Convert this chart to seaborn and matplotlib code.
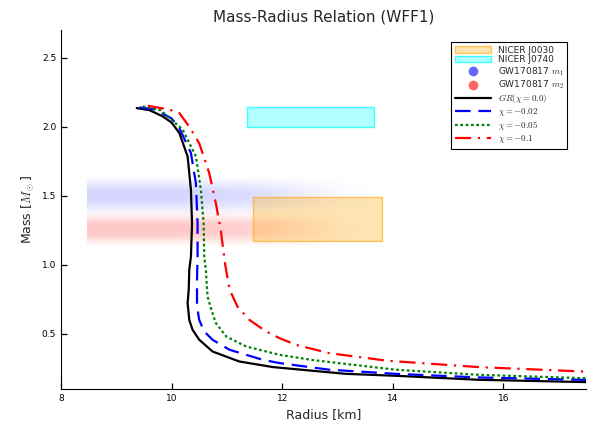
"""
Mass-radius relation for the WFF1 equation of state, with NICER and GW170817 constraints.
"""

import numpy as np
import pandas as pd
import matplotlib
matplotlib.use("Agg")
import matplotlib.pyplot as plt
from matplotlib.lines import Line2D
import seaborn as sns

# mass-radius curves (radius in km, mass in solar masses)
gr_radius = [9.37, 9.6, 9.84, 10.0, 10.14, 10.29, 10.35, 10.37, 10.35, 10.32, 10.31, 10.29,
             10.32, 10.38, 10.50, 10.74, 11.22, 11.83, 13.15, 14.05, 15.55, 17.5]
gr_mass = [2.135, 2.12, 2.075, 2.03, 1.955, 1.785, 1.543, 1.30, 1.06, 0.964, 0.82, 0.722,
           0.60, 0.529, 0.457, 0.372, 0.30, 0.259, 0.21, 0.196, 0.167, 0.15]

chi002_radius = [9.42, 9.7, 10.0, 10.14, 10.35, 10.44, 10.47, 10.47, 10.46, 10.46, 10.50,
                 10.59, 10.74, 11.05, 11.645, 11.95, 12.85, 14.05, 15.55, 17.5]
chi002_mass = [2.14, 2.125, 2.06, 1.99, 1.81, 1.59, 1.30, 1.06, 0.891, 0.698, 0.60,
               0.517, 0.457, 0.384, 0.312, 0.288, 0.24, 0.21, 0.184, 0.166]

chi005_radius = [9.48, 9.8, 10.2, 10.44, 10.53, 10.58, 10.59, 10.62, 10.65, 10.72, 10.80,
                 10.99, 11.35, 11.95, 12.55, 14.05, 15.55, 17.5]
chi005_mass = [2.147, 2.12, 1.98, 1.785, 1.543, 1.30, 1.06, 0.964, 0.77, 0.674, 0.578,
               0.48, 0.408, 0.348, 0.31, 0.24, 0.203, 0.178]

chi01_radius = [9.57, 9.95, 10.14, 10.32, 10.50, 10.68, 10.80, 10.89, 10.97, 11.05, 11.19,
                11.41, 11.71, 11.95, 12.25, 12.85, 13.9, 15.55, 17.5]
chi01_mass = [2.152, 2.125, 2.10, 2.0, 1.88, 1.665, 1.447, 1.25, 1.0, 0.82, 0.698,
              0.60, 0.517, 0.469, 0.42, 0.36, 0.305, 0.259, 0.226]

curve_labels = [r"$GR(\chi = 0.0)$", r"$\chi = -0.02$", r"$\chi = -0.05$", r"$\chi = -0.1$"]

# NICER boxes: (radius min, radius max), (mass min, mass max)
j0030_radius = [11.48, 13.80]
j0030_mass = [1.174, 1.49]
j0740_radius = [11.37, 13.66]
j0740_mass = [2.0, 2.145]

# GW170817 sample clouds, shown as a soft density band
m1_radius = [8.47, 13.6]
m1_mass = [1.33, 1.66]
m1_mass_profile = [0.0, 0.07, 0.14, 0.17, 0.15, 0.07, 0.0]
m1_radius_profile = [1.0, 1.0, 1.0, 0.95, 0.85, 0.6, 0.3, 0.05]

m2_radius = [8.47, 13.5]
m2_mass = [1.11, 1.41]
m2_mass_profile = [0.0, 0.09, 0.2, 0.23, 0.2, 0.09, 0.0]
m2_radius_profile = [1.0, 1.0, 1.0, 0.95, 0.85, 0.6, 0.3, 0.05]

sns.set_theme(style="white")
plt.rcParams["font.family"] = ["DejaVu Sans"]
plt.rcParams["mathtext.fontset"] = "cm"

fig, ax = plt.subplots(figsize=(6, 4.3), dpi=100)
fig.subplots_adjust(left=0.1017, right=0.977, bottom=0.0953, top=0.930)


def cloud(mass_profile, radius_profile, color, radius, mass):
    a = np.outer(mass_profile, radius_profile)
    img = np.zeros(a.shape + (4,))
    img[..., :3] = matplotlib.colors.to_rgb(color)
    img[..., 3] = a
    ax.imshow(img, extent=[radius[0], radius[1], mass[0], mass[1]], origin="lower",
              aspect="auto", interpolation="bilinear", zorder=1)


cloud(m1_mass_profile, m1_radius_profile, "blue", m1_radius, m1_mass)
cloud(m2_mass_profile, m2_radius_profile, "red", m2_radius, m2_mass)

# NICER constraints
p1 = ax.fill_between(j0030_radius, j0030_mass[0], j0030_mass[1],
                     facecolor=(1, 0.647, 0, 0.3), edgecolor=(1, 0.647, 0, 0.6),
                     linewidth=1, zorder=2, label="NICER J0030")
p2 = ax.fill_between(j0740_radius, j0740_mass[0], j0740_mass[1],
                     facecolor=(0, 1, 1, 0.3), edgecolor=(0, 1, 1, 0.7),
                     linewidth=1, zorder=2, label="NICER J0740")

# curves
curves = [(gr_radius, gr_mass), (chi002_radius, chi002_mass),
          (chi005_radius, chi005_mass), (chi01_radius, chi01_mass)]
colors = ["black", "blue", "green", "red"]
styles = ["-", (0, (7, 3.5)), (0, (1.2, 1.2)), (0, (7.3, 3, 1, 3))]

for (r, m), lab, c, ls in zip(curves, curve_labels, colors, styles):
    df = pd.DataFrame({"Radius": r, "Mass": m})
    sns.lineplot(data=df, x="Radius", y="Mass", sort=False, estimator=None,
                 color=c, linestyle=ls, linewidth=1.6, ax=ax, zorder=3, label=lab)

ax.set_xlim(8, 17.5)
ax.set_ylim(0.1, 2.7)
ax.set_xticks([8, 10, 12, 14, 16])
ax.set_yticks([0.5, 1.0, 1.5, 2.0, 2.5])
ax.tick_params(direction="in", length=4, width=0.9, labelsize=6.5, colors="black",
               bottom=True, left=True)
for s in ["top", "right"]:
    ax.spines[s].set_visible(False)
for s in ["left", "bottom"]:
    ax.spines[s].set_color("black")
    ax.spines[s].set_linewidth(0.8)

ax.set_title("Mass-Radius Relation (WFF1)", fontsize=11)
ax.set_xlabel("Radius [km]", fontsize=9)
ax.set_ylabel(r"Mass [$M_\odot$]", fontsize=9)

# legend
h, l = ax.get_legend_handles_labels()
line_handles = [hh for hh, ll in zip(h, l) if ll in curve_labels]
gw1 = Line2D([], [], marker="o", linestyle="none", markersize=7,
             color="blue", alpha=0.6, markeredgewidth=0)
gw2 = Line2D([], [], marker="o", linestyle="none", markersize=7,
             color="red", alpha=0.6, markeredgewidth=0)
handles = [p1, p2, gw1, gw2] + line_handles
labels = ["NICER J0030", "NICER J0740", r"GW170817 $m_1$", r"GW170817 $m_2$"] + curve_labels
leg = ax.legend(handles, labels, loc="upper right", bbox_to_anchor=(0.964, 0.967),
                borderaxespad=0, fontsize=6.5, handlelength=4, labelspacing=0.1,
                borderpad=0.4, fancybox=False, framealpha=1, edgecolor="black")
leg.get_frame().set_linewidth(0.8)

plt.savefig("out.png", dpi=100)
plt.close()
